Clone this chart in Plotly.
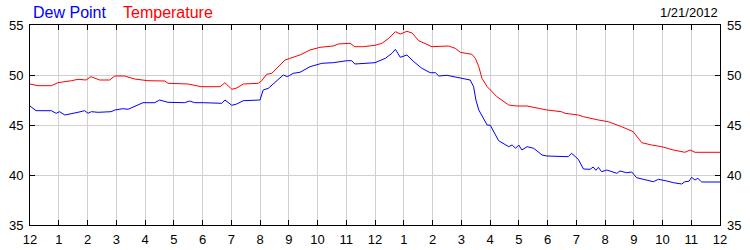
import plotly.graph_objects as go

# Hours since midnight (12 AM) on 1/21/2012
temp_hours = [0.0, 0.28, 0.74, 0.97, 1.44, 1.67, 1.95, 2.12, 2.42, 2.77, 2.95, 3.29, 3.64, 4.10,
              4.69, 4.80, 5.50, 5.95, 6.61, 6.78, 7.02, 7.19, 7.42, 7.94, 8.06, 8.23, 8.41, 8.87,
              9.04, 9.39, 9.74, 10.09, 10.55, 10.72, 11.13, 11.30, 11.59, 12.0, 12.24, 12.48,
              12.71, 12.88, 13.11, 13.29, 13.52, 13.75, 13.98, 14.56, 14.79, 14.97, 15.37, 15.49,
              15.61, 15.72, 15.90, 16.24, 16.65, 16.94, 17.29, 17.69, 17.98, 18.49, 18.61, 19.07,
              19.25, 19.77, 20.11, 20.58, 20.98, 21.16, 21.28, 21.62, 21.97, 22.38, 22.78, 22.96,
              23.13, 24.0]
temperature = [49.1, 48.93, 48.93, 49.23, 49.43, 49.57, 49.5, 49.83, 49.5, 49.5, 49.9, 49.9, 49.6,
               49.43, 49.4, 49.17, 49.1, 48.83, 48.83, 49.23, 48.57, 48.7, 49.1, 49.17, 49.43,
               50.07, 50.17, 51.5, 51.67, 52.0, 52.5, 52.77, 52.9, 53.1, 53.17, 52.83, 52.83,
               52.97, 53.17, 53.67, 54.33, 54.1, 54.37, 54.2, 53.43, 53.17, 52.83, 52.9, 52.67,
               52.27, 52.07, 51.67, 50.83, 49.67, 48.83, 47.83, 47.0, 46.9, 46.9, 46.67, 46.5,
               46.33, 46.17, 46.0, 45.83, 45.5, 45.33, 44.83, 44.33, 43.67, 43.23, 43.0, 42.83,
               42.5, 42.27, 42.5, 42.27, 42.27]

dew_hours = [0.0, 0.21, 0.74, 0.91, 1.03, 1.21, 1.67, 1.90, 2.02, 2.13, 2.37, 2.82, 2.95, 3.23,
             3.41, 3.64, 3.93, 4.34, 4.51, 4.80, 5.38, 5.55, 5.73, 6.02, 6.67, 6.78, 7.02, 7.19,
             7.42, 8.0, 8.11, 8.29, 8.41, 8.81, 8.95, 9.16, 9.39, 9.74, 10.15, 10.55, 11.02,
             11.19, 11.30, 11.59, 12.0, 12.36, 12.59, 12.71, 12.88, 13.11, 13.35, 13.63, 13.92,
             14.10, 14.22, 14.50, 14.91, 15.31, 15.43, 15.51, 15.61, 15.78, 15.90, 16.01, 16.18,
             16.30, 16.65, 16.77, 16.89, 17.0, 17.11, 17.29, 17.52, 17.69, 17.81, 17.98, 18.72,
             18.84, 19.07, 19.25, 19.48, 19.59, 19.68, 19.77, 19.88, 20.06, 20.41, 20.52, 20.75,
             20.93, 21.10, 21.68, 21.86, 22.15, 22.38, 22.67, 22.78, 22.92, 23.01, 23.13, 23.23,
             23.36, 24.0]
dew_point = [46.9, 46.43, 46.43, 46.17, 46.33, 46.0, 46.27, 46.43, 46.17, 46.33, 46.27, 46.33,
             46.5, 46.63, 46.57, 46.83, 47.23, 47.23, 47.5, 47.27, 47.23, 47.4, 47.23, 47.23,
             47.17, 47.5, 46.97, 47.1, 47.43, 47.5, 48.5, 48.67, 49.0, 50.0, 49.83, 50.17, 50.27,
             50.83, 51.17, 51.23, 51.43, 51.43, 51.1, 51.17, 51.23, 51.67, 52.17, 52.57, 51.77,
             52.0, 51.33, 50.67, 50.23, 50.23, 49.9, 49.97, 49.77, 49.5, 48.83, 47.5, 46.5,
             45.67, 45.0, 44.97, 44.0, 43.43, 42.83, 43.0, 42.67, 43.0, 42.5, 42.83, 42.67,
             42.33, 42.0, 41.9, 41.83, 42.17, 41.57, 40.6, 40.57, 40.8, 40.47, 40.77, 40.33,
             40.5, 40.17, 40.4, 40.23, 40.3, 39.73, 39.33, 39.57, 39.4, 39.23, 39.1, 39.33,
             39.37, 39.77, 39.5, 39.67, 39.3, 39.3]

x_tick_vals = list(range(0, 25))
x_tick_text = ["12", "1", "2", "3", "4", "5", "6", "7", "8", "9", "10", "11",
               "12", "1", "2", "3", "4", "5", "6", "7", "8", "9", "10", "11", "12"]
y_tick_vals = [35, 40, 45, 50, 55]
date_label = "1/21/2012"

FONT = "Liberation Sans, Arial, sans-serif"

fig = go.Figure()
fig.add_trace(go.Scatter(x=temp_hours, y=temperature, mode="lines",
                         line=dict(color="#ff0000", width=1), name="Temperature"))
fig.add_trace(go.Scatter(x=dew_hours, y=dew_point, mode="lines",
                         line=dict(color="#0000ff", width=1), name="Dew Point"))
# invisible trace to anchor the right-hand axis
fig.add_trace(go.Scatter(x=temp_hours, y=temperature, mode="lines", yaxis="y2",
                         line=dict(color="rgba(0,0,0,0)", width=0), hoverinfo="skip",
                         showlegend=False))

fig.update_layout(
    width=750, height=250,
    margin=dict(l=30, r=30, t=25, b=25),
    paper_bgcolor="white", plot_bgcolor="white",
    showlegend=False,
    font=dict(family=FONT, size=13, color="black"),
    xaxis=dict(range=[0, 24], tickvals=x_tick_vals, ticktext=x_tick_text,
               showgrid=True, gridcolor="#d0d0d0", gridwidth=1,
               ticks="inside", ticklen=5, tickcolor="black", tickwidth=1,
               showline=True, linecolor="black", linewidth=1, mirror="ticks",
               ticklabelstandoff=2, automargin=False,
               zeroline=False, tickfont=dict(family=FONT, size=13, color="black")),
    yaxis=dict(range=[35, 55], tickvals=y_tick_vals,
               showgrid=True, gridcolor="#d0d0d0", gridwidth=1,
               ticks="inside", ticklen=5, tickcolor="black", tickwidth=1,
               showline=True, linecolor="black", linewidth=1, mirror="ticks",
               ticklabelstandoff=3, automargin=False,
               zeroline=False, tickfont=dict(family=FONT, size=13, color="black")),
    yaxis2=dict(range=[35, 55], tickvals=y_tick_vals, overlaying="y", side="right",
                showgrid=False, ticks="", showline=False, zeroline=False,
                ticklabelstandoff=6, automargin=False,
                tickfont=dict(family=FONT, size=13, color="black")),
    annotations=[
        dict(text="Dew Point", xref="paper", yref="paper", x=0, y=1, xanchor="left",
             yanchor="bottom", xshift=1, yshift=2, showarrow=False,
             font=dict(family=FONT, size=16, color="#0000ff")),
        dict(text="Temperature", xref="paper", yref="paper", x=0, y=1, xanchor="left",
             yanchor="bottom", xshift=91, yshift=2, showarrow=False,
             font=dict(family=FONT, size=16, color="#ff0000")),
        dict(text=date_label, xref="paper", yref="paper", x=1, y=1, xanchor="right",
             yanchor="bottom", xshift=0, yshift=3, showarrow=False,
             font=dict(family=FONT, size=13, color="black")),
    ],
)

fig.write_html("out.html")
